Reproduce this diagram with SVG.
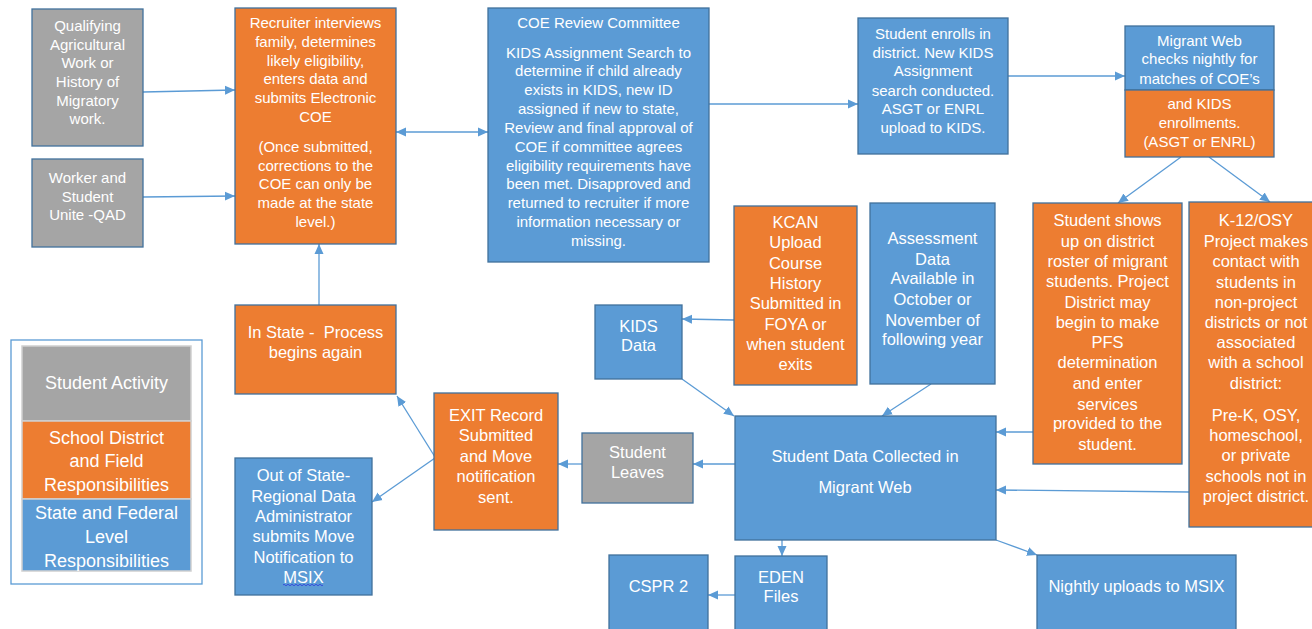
<svg xmlns="http://www.w3.org/2000/svg" width="1312" height="629" viewBox="0 0 1312 629">
<style>
.b{fill:#5B9BD5;stroke:#41719C;stroke-width:1.3}
.o{fill:#ED7D31;stroke:#41719C;stroke-width:1.3}
.g{fill:#A5A5A5;stroke:#41719C;stroke-width:1.3}
.lg{stroke:#D0D0D0;stroke-width:1.5}
text{font-family:"Liberation Sans",Arial,sans-serif;fill:#FFFFFF;text-anchor:middle;font-size:15px}
.m text{font-size:16.5px}
.leg text{font-size:18px}
.c path,.c line{stroke:#5B9BD5;stroke-width:1.3;fill:none}
</style>
<defs>
<marker id="ah" viewBox="0 0 10 10" refX="10" refY="5" markerWidth="10" markerHeight="10" markerUnits="userSpaceOnUse" orient="auto-start-reverse">
<path d="M0,0.5 L10,5 L0,9.5 z" fill="#5B9BD5"/>
</marker>
</defs>
<rect width="1312" height="629" fill="#FFFFFF"/>

<g class="c" id="connectors">
<line x1="143" y1="92" x2="235" y2="90" marker-end="url(#ah)"/>
<line x1="143" y1="197" x2="235" y2="196" marker-end="url(#ah)"/>
<line x1="396" y1="132" x2="488" y2="132" marker-start="url(#ah)" marker-end="url(#ah)"/>
<line x1="709" y1="104" x2="858" y2="104" marker-end="url(#ah)"/>
<line x1="1008" y1="76" x2="1125" y2="76" marker-end="url(#ah)"/>
<line x1="1181" y1="157" x2="1118" y2="203" marker-end="url(#ah)"/>
<line x1="1209" y1="157" x2="1270" y2="202" marker-end="url(#ah)"/>
<line x1="319" y1="305" x2="319" y2="244" marker-end="url(#ah)"/>
<line x1="435" y1="457" x2="397" y2="396" marker-end="url(#ah)"/>
<line x1="435" y1="458" x2="372" y2="502" marker-end="url(#ah)"/>
<line x1="582" y1="464" x2="558" y2="464" marker-end="url(#ah)"/>
<line x1="735" y1="464" x2="693" y2="464" marker-end="url(#ah)"/>
<line x1="734" y1="320" x2="682" y2="319" marker-end="url(#ah)"/>
<line x1="682" y1="379" x2="734" y2="416" marker-end="url(#ah)"/>
<line x1="931" y1="384" x2="882" y2="416" marker-end="url(#ah)"/>
<line x1="1033" y1="432" x2="996" y2="432" marker-end="url(#ah)"/>
<line x1="1189" y1="492" x2="996" y2="490" marker-end="url(#ah)"/>
<line x1="782" y1="540" x2="782" y2="556" marker-end="url(#ah)"/>
<line x1="735" y1="595" x2="708" y2="595" marker-end="url(#ah)"/>
<line x1="996" y1="540" x2="1037" y2="555" marker-end="url(#ah)"/>
</g>

<g id="qualifying">
<rect class="g" x="32" y="9" width="111" height="137"/>
<text x="87.5" y="31">Qualifying</text>
<text x="87.5" y="50">Agricultural</text>
<text x="87.5" y="68">Work or</text>
<text x="87.5" y="87">History of</text>
<text x="87.5" y="106">Migratory</text>
<text x="87.5" y="124">work.</text>
</g>

<g id="worker">
<rect class="g" x="32" y="159" width="111" height="88"/>
<text x="87.5" y="183">Worker and</text>
<text x="87.5" y="202">Student</text>
<text x="87.5" y="220">Unite -QAD</text>
</g>

<g id="recruiter">
<rect class="o" x="235" y="8" width="161" height="236"/>
<text x="315.5" y="28">Recruiter interviews</text>
<text x="315.5" y="47">family, determines</text>
<text x="315.5" y="66">likely eligibility,</text>
<text x="315.5" y="84">enters data and</text>
<text x="315.5" y="103">submits Electronic</text>
<text x="315.5" y="122">COE</text>
<text x="315.5" y="152">(Once submitted,</text>
<text x="315.5" y="171">corrections to the</text>
<text x="315.5" y="189">COE can only be</text>
<text x="315.5" y="208">made at the state</text>
<text x="315.5" y="227">level.)</text>
</g>

<g id="coe-review">
<rect class="b" x="488" y="8" width="221" height="254"/>
<text x="598.5" y="28">COE Review Committee</text>
<text x="598.5" y="58">KIDS Assignment Search to</text>
<text x="598.5" y="76">determine if child already</text>
<text x="598.5" y="95">exists in KIDS, new ID</text>
<text x="598.5" y="114">assigned if new to state,</text>
<text x="598.5" y="133">Review and final approval of</text>
<text x="598.5" y="152">COE if committee agrees</text>
<text x="598.5" y="171">eligibility requirements have</text>
<text x="598.5" y="189">been met. Disapproved and</text>
<text x="598.5" y="208">returned to recruiter if more</text>
<text x="598.5" y="227">information necessary or</text>
<text x="598.5" y="246">missing.</text>
</g>

<g id="student-enrolls">
<rect class="b" x="858" y="18" width="150" height="136"/>
<text x="933" y="39">Student enrolls in</text>
<text x="933" y="58">district. New KIDS</text>
<text x="933" y="76">Assignment</text>
<text x="933" y="96">search conducted.</text>
<text x="933" y="114">ASGT or ENRL</text>
<text x="933" y="133">upload to KIDS.</text>
</g>

<g id="migrant-web-check">
<rect class="b" x="1125" y="26" width="149" height="64"/>
<rect class="o" x="1125" y="90" width="149" height="67"/>
<text x="1199.5" y="46">Migrant Web</text>
<text x="1199.5" y="64">checks nightly for</text>
<text x="1199.5" y="84">matches of COE’s</text>
<text x="1199.5" y="109">and KIDS</text>
<text x="1199.5" y="128">enrollments.</text>
<text x="1199.5" y="147">(ASGT or ENRL)</text>
</g>

<g id="kcan" class="m">
<rect class="o" x="734" y="206" width="123" height="179"/>
<text x="795.5" y="228">KCAN</text>
<text x="795.5" y="248">Upload</text>
<text x="795.5" y="269">Course</text>
<text x="795.5" y="289">History</text>
<text x="795.5" y="309">Submitted in</text>
<text x="795.5" y="330">FOYA or</text>
<text x="795.5" y="350">when student</text>
<text x="795.5" y="370">exits</text>
</g>

<g id="assessment" class="m">
<rect class="b" x="870" y="203" width="125" height="181"/>
<text x="932.5" y="244">Assessment</text>
<text x="932.5" y="265">Data</text>
<text x="932.5" y="284">Available in</text>
<text x="932.5" y="305">October or</text>
<text x="932.5" y="326">November of</text>
<text x="932.5" y="345">following year</text>
</g>

<g id="student-shows-up" class="m">
<rect class="o" x="1033" y="203" width="149" height="261"/>
<text x="1107.5" y="226">Student shows</text>
<text x="1107.5" y="247">up on district</text>
<text x="1107.5" y="267">roster of migrant</text>
<text x="1107.5" y="287">students. Project</text>
<text x="1107.5" y="308">District may</text>
<text x="1107.5" y="328">begin to make</text>
<text x="1107.5" y="348">PFS</text>
<text x="1107.5" y="368">determination</text>
<text x="1107.5" y="389">and enter</text>
<text x="1107.5" y="410">services</text>
<text x="1107.5" y="429">provided to the</text>
<text x="1107.5" y="450">student.</text>
</g>

<g id="k12-osy" class="m">
<rect class="o" x="1189" y="202" width="134" height="325"/>
<text x="1256" y="226">K-12/OSY</text>
<text x="1256" y="247">Project makes</text>
<text x="1256" y="267">contact with</text>
<text x="1256" y="288">students in</text>
<text x="1256" y="308">non-project</text>
<text x="1256" y="328">districts or not</text>
<text x="1256" y="348">associated</text>
<text x="1256" y="368">with a school</text>
<text x="1256" y="389">district:</text>
<text x="1256" y="421">Pre-K, OSY,</text>
<text x="1256" y="441">homeschool,</text>
<text x="1256" y="461">or private</text>
<text x="1256" y="482">schools not in</text>
<text x="1256" y="502">project district.</text>
</g>

<g id="legend" class="leg">
<rect x="11" y="340" width="191" height="244" fill="#FFFFFF" stroke="#5B9BD5" stroke-width="1.3"/>
<rect class="lg" x="22" y="346" width="169" height="75" fill="#A5A5A5"/>
<rect class="lg" x="22" y="421" width="169" height="78" fill="#ED7D31"/>
<rect class="lg" x="22" y="499" width="169" height="72" fill="#5B9BD5"/>
<text x="106.5" y="389">Student Activity</text>
<text x="106.5" y="444">School District</text>
<text x="106.5" y="467">and Field</text>
<text x="106.5" y="491">Responsibilities</text>
<text x="106.5" y="519">State and Federal</text>
<text x="106.5" y="543">Level</text>
<text x="106.5" y="567">Responsibilities</text>
</g>

<g id="in-state" class="m">
<rect class="o" x="235" y="305" width="161" height="89"/>
<text x="315.5" y="338" xml:space="preserve">In State -  Process</text>
<text x="315.5" y="358">begins again</text>
</g>

<g id="out-of-state" class="m">
<rect class="b" x="235" y="458" width="137" height="137"/>
<text x="303.5" y="481">Out of State-</text>
<text x="303.5" y="502">Regional Data</text>
<text x="303.5" y="522">Administrator</text>
<text x="303.5" y="542">submits Move</text>
<text x="303.5" y="563">Notification to</text>
<text x="303.5" y="583">MSIX</text>
<path d="M283,585 q1,-1.5 2,0 t2,0 t2,0 t2,0 t2,0 t2,0 t2,0 t2,0 t2,0 t2,0 t2,0 t2,0 t2,0 t2,0 t2,0 t2,0 t2,0 t2,0 t2,0 t2,0" fill="none" stroke="#3344DD" stroke-width="0.9"/>
</g>

<g id="exit-record" class="m">
<rect class="o" x="434" y="393" width="124" height="137"/>
<text x="496" y="421">EXIT Record</text>
<text x="496" y="441">Submitted</text>
<text x="496" y="462">and Move</text>
<text x="496" y="482">notification</text>
<text x="496" y="503">sent.</text>
</g>

<g id="student-leaves" class="m">
<rect class="g" x="582" y="433" width="111" height="70"/>
<text x="637.5" y="458">Student</text>
<text x="637.5" y="478">Leaves</text>
</g>

<g id="kids-data" class="m">
<rect class="b" x="595" y="305" width="87" height="74"/>
<text x="638.5" y="332">KIDS</text>
<text x="638.5" y="351">Data</text>
</g>

<g id="student-data" class="m">
<rect class="b" x="735" y="416" width="261" height="124"/>
<text x="865" y="462">Student Data Collected in</text>
<text x="865" y="493">Migrant Web</text>
</g>

<g id="eden" class="m">
<rect class="b" x="735" y="556" width="92" height="80"/>
<text x="781" y="583">EDEN</text>
<text x="781" y="602">Files</text>
</g>

<g id="cspr" class="m">
<rect class="b" x="609" y="555" width="99" height="80"/>
<text x="658.5" y="592">CSPR 2</text>
</g>

<g id="nightly" class="m">
<rect class="b" x="1037" y="555" width="199" height="80"/>
<text x="1136.5" y="592">Nightly uploads to MSIX</text>
</g>
</svg>
